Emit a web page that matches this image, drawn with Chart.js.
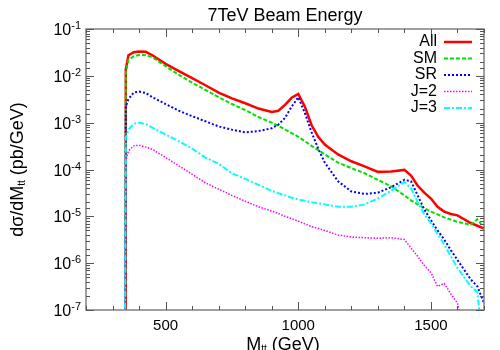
<!DOCTYPE html>
<html>
<head>
<meta charset="utf-8">
<script src="https://cdn.jsdelivr.net/npm/chart.js@4.4.0/dist/chart.umd.min.js"></script>
<style>
    html, body { margin: 0; padding: 0; background: #fff; }
    #wrap { width: 500px; height: 350px; }
</style>
</head>
<body>
<div id="wrap"><canvas id="chart"></canvas></div>
<script>
//--- Data
var massGeV = [347, 350, 360, 380, 400, 425, 450, 500, 550, 600, 650, 700, 750, 800, 850, 900, 925, 950, 975, 1000,
    1025, 1050, 1075, 1100, 1150, 1200, 1250, 1300, 1350, 1400, 1425, 1450, 1475, 1500, 1525, 1550, 1575, 1600, 1650, 1675, 1700];

var allXs = [1e-8, 1.35e-2, 2.75e-2, 3.2e-2, 3.3e-2, 3.25e-2, 2.75e-2, 1.8e-2, 1.26e-2, 8.9e-3, 6.3e-3, 4.4e-3, 3.3e-3, 2.6e-3, 2.0e-3, 1.7e-3, 1.8e-3, 2.4e-3, 3.4e-3, 4.1e-3,
    2.2e-3, 8.9e-4, 5.0e-4, 3.4e-4, 2.1e-4, 1.5e-4, 1.17e-4, 8.9e-5, 9.1e-5, 9.8e-5, 7.4e-5, 4.5e-5, 3.2e-5, 2.4e-5, 1.6e-5, 1.26e-5, 1.12e-5, 1.05e-5, 7.2e-6, 6.3e-6, 5.5e-6];
var smXs = [1e-8, 1.15e-2, 2.2e-2, 2.6e-2, 2.8e-2, 2.75e-2, 2.5e-2, 1.6e-2, 1.05e-2, 7.2e-3, 5.0e-3, 3.5e-3, 2.5e-3, 1.86e-3, 1.32e-3, 1.0e-3, 8.5e-4, 7.2e-4, 6.0e-4, 5.0e-4,
    4.0e-4, 3.2e-4, 2.6e-4, 2.1e-4, 1.4e-4, 1.07e-4, 8.3e-5, 6.0e-5, 4.4e-5, 2.8e-5, 2.2e-5, 1.8e-5, 1.5e-5, 1.26e-5, 1.1e-5, 9.5e-6, 8.5e-6, 7.6e-6, 6.6e-6, 8.7e-6, 5.6e-6];
var srXs = [1e-8, 2.2e-3, 3.2e-3, 4.4e-3, 4.6e-3, 4.3e-3, 3.5e-3, 2.5e-3, 1.8e-3, 1.38e-3, 1.07e-3, 8.3e-4, 7.1e-4, 6.2e-4, 6.6e-4, 7.6e-4, 9.1e-4, 1.26e-3, 2.2e-3, 3.5e-3,
    1.6e-3, 6.3e-4, 2.8e-4, 1.4e-4, 5.6e-5, 3.4e-5, 3.0e-5, 3.2e-5, 4.2e-5, 6.0e-5, 5.6e-5, 2.8e-5, 1.4e-5, 8.3e-6, 5.0e-6, 3.2e-6, 1.9e-6, 1.17e-6, 4.5e-7, 3.2e-7, 1.4e-7];
var j2Xs = [1e-8, 1.5e-4, 2.5e-4, 3.2e-4, 3.3e-4, 3.0e-4, 2.7e-4, 1.8e-4, 1.2e-4, 7.9e-5, 5.2e-5, 3.8e-5, 2.8e-5, 2.1e-5, 1.6e-5, 1.3e-5, 1.15e-5, 1.0e-5, 8.9e-6, 7.9e-6,
    6.9e-6, 6.0e-6, 5.5e-6, 5.0e-6, 4.0e-6, 3.6e-6, 3.5e-6, 3.4e-6, 3.5e-6, 3.2e-6, 2.1e-6, 1.4e-6, 8.9e-7, 6.3e-7, 3.2e-7, 3.7e-7, 2.2e-7, 1.4e-7, 1e-8, null, null];
var j3Xs = [1e-8, 4.8e-4, 7.1e-4, 9.5e-4, 1.0e-3, 9.3e-4, 7.8e-4, 5.6e-4, 4.0e-4, 2.8e-4, 1.8e-4, 1.32e-4, 8.3e-5, 6.3e-5, 4.7e-5, 3.5e-5, 3.1e-5, 2.8e-5, 2.5e-5, 2.3e-5,
    2.15e-5, 2.0e-5, 1.9e-5, 1.8e-5, 1.6e-5, 1.6e-5, 1.8e-5, 2.4e-5, 3.5e-5, 5.4e-5, 4.0e-5, 2.0e-5, 1.1e-5, 7.1e-6, 4.2e-6, 2.5e-6, 1.4e-6, 7.9e-7, 3.2e-7, 2.4e-7, 1e-8];

var seriesNames = ['All', 'SM', 'SR', 'J=2', 'J=3'];
var xTickLabels = [500, 1000, 1500];
var yDecades = [-7, -6, -5, -4, -3, -2, -1];

var FONT = '"Liberation Sans", Arial, sans-serif';

function points(values) {
    return massGeV.map(function (m, i) { return { x: m, y: values[i] }; });
}

//--- Extra drawing: frame, inward ticks, labels, titles, legend
var decorPlugin = {
    id: 'decor',
    afterDraw: function (chart) {
        var ctx = chart.ctx;
        var a = chart.chartArea;
        var xs = chart.scales.x;
        var ys = chart.scales.y;
        ctx.save();

        // frame
        ctx.strokeStyle = '#808080';
        ctx.lineWidth = 1.5;
        ctx.strokeRect(a.left, a.top, a.right - a.left, a.bottom - a.top);

        // ticks pointing inward
        ctx.strokeStyle = '#555';
        ctx.lineWidth = 1;
        ctx.beginPath();
        xs.ticks.forEach(function (t) {
            var px = Math.round(xs.getPixelForValue(t.value)) + 0.5;
            var len = xTickLabels.indexOf(t.value) >= 0 ? 8 : 4;
            ctx.moveTo(px, a.bottom); ctx.lineTo(px, a.bottom - len);
            ctx.moveTo(px, a.top); ctx.lineTo(px, a.top + len);
        });
        ys.ticks.forEach(function (t) {
            var lg = Math.log10(t.value);
            var major = Math.abs(lg - Math.round(lg)) < 1e-6;
            var py = Math.round(ys.getPixelForValue(t.value)) + 0.5;
            var len = major ? 8 : 4;
            ctx.moveTo(a.left, py); ctx.lineTo(a.left + len, py);
            ctx.moveTo(a.right, py); ctx.lineTo(a.right - len, py);
        });
        ctx.stroke();

        // y tick labels 10^n
        ctx.fillStyle = '#000';
        yDecades.forEach(function (d) {
            var py = ys.getPixelForValue(Math.pow(10, d));
            var exp = '-' + Math.abs(d);
            ctx.font = '11px ' + FONT;
            var ew = ctx.measureText(exp).width;
            ctx.textAlign = 'right';
            ctx.textBaseline = 'alphabetic';
            ctx.fillText(exp, a.left - 5, py + 0);
            ctx.font = '16px ' + FONT;
            ctx.fillText('10', a.left - 5 - ew, py + 6);
        });

        // title
        ctx.font = '18px ' + FONT;
        ctx.textAlign = 'center';
        ctx.textBaseline = 'alphabetic';
        ctx.fillText('7TeV Beam Energy', (a.left + a.right) / 2, 21);

        // x axis title M_tt (GeV)
        drawSubLabel(ctx, 'M', 'tt', ' (GeV)', (a.left + a.right) / 2 - 2, 350);

        // y axis title
        ctx.save();
        ctx.translate(23, (a.top + a.bottom) / 2);
        ctx.rotate(-Math.PI / 2);
        drawSubLabel(ctx, 'd\u03c3/dM', 'tt', ' (pb/GeV)', 0, 0);
        ctx.restore();

        // legend
        var rowY = 42;
        chart.data.datasets.forEach(function (ds) {
            ctx.font = '16px ' + FONT;
            ctx.textAlign = 'right';
            ctx.textBaseline = 'middle';
            ctx.fillStyle = '#000';
            ctx.fillText(ds.label, 437, rowY);
            ctx.strokeStyle = ds.borderColor;
            ctx.lineWidth = ds.borderWidth;
            ctx.setLineDash(ds.borderDash || []);
            ctx.beginPath();
            ctx.moveTo(444, rowY);
            ctx.lineTo(472, rowY);
            ctx.stroke();
            ctx.setLineDash([]);
            rowY += 16.5;
        });

        ctx.restore();
    }
};

function drawSubLabel(ctx, main, sub, tail, cx, baseY) {
    ctx.font = '18px ' + FONT;
    var w1 = ctx.measureText(main).width;
    var w3 = ctx.measureText(tail).width;
    ctx.font = '10px ' + FONT;
    var w2 = ctx.measureText(sub).width;
    var x = cx - (w1 + w2 + w3) / 2;
    ctx.fillStyle = '#000';
    ctx.textAlign = 'left';
    ctx.textBaseline = 'alphabetic';
    ctx.font = '18px ' + FONT;
    ctx.fillText(main, x, baseY);
    ctx.font = '10px ' + FONT;
    ctx.fillText(sub, x + w1, baseY + 2);
    ctx.font = '18px ' + FONT;
    ctx.fillText(tail, x + w1 + w2, baseY);
}

function makeDataset(label, values, color, width, dash, order) {
    return {
        label: label,
        data: points(values),
        borderColor: color,
        backgroundColor: color,
        borderWidth: width,
        borderDash: dash,
        pointRadius: 0,
        tension: 0,
        fill: false,
        spanGaps: false,
        order: order
    };
}

new Chart(document.getElementById('chart'), {
    type: 'line',
    data: {
        datasets: [
            makeDataset(seriesNames[0], allXs, '#ff0000', 2.5, [], 5),
            makeDataset(seriesNames[1], smXs, '#00e000', 2, [4, 2], 4),
            makeDataset(seriesNames[2], srXs, '#0000ff', 2, [2, 2], 3),
            makeDataset(seriesNames[3], j2Xs, '#ff00ff', 1.5, [1.5, 1.5], 2),
            makeDataset(seriesNames[4], j3Xs, '#00ffff', 2, [6, 2, 2, 2], 1)
        ]
    },
    options: {
        responsive: true,
        maintainAspectRatio: false,
        animation: false,
        devicePixelRatio: 1,
        layout: { padding: { top: 29, right: 16, left: 0, bottom: 0 } },
        plugins: {
            legend: { display: false },
            title: { display: false },
            tooltip: { enabled: false }
        },
        scales: {
            x: {
                type: 'linear',
                min: 200,
                max: 1700,
                grid: { display: false, drawTicks: false },
                border: { display: false },
                ticks: {
                    stepSize: 100,
                    autoSkip: false,
                    maxRotation: 0,
                    padding: 7,
                    color: '#000',
                    font: { family: FONT, size: 15 },
                    callback: function (v) { return xTickLabels.indexOf(v) >= 0 ? String(v) : ''; }
                },
                afterFit: function (scale) { scale.height = 40; }
            },
            y: {
                type: 'logarithmic',
                min: 1e-7,
                max: 1e-1,
                grid: { display: false, drawTicks: false },
                border: { display: false },
                ticks: { display: false },
                afterFit: function (scale) { scale.width = 86; }
            }
        }
    },
    plugins: [decorPlugin]
});
</script>
</body>
</html>
